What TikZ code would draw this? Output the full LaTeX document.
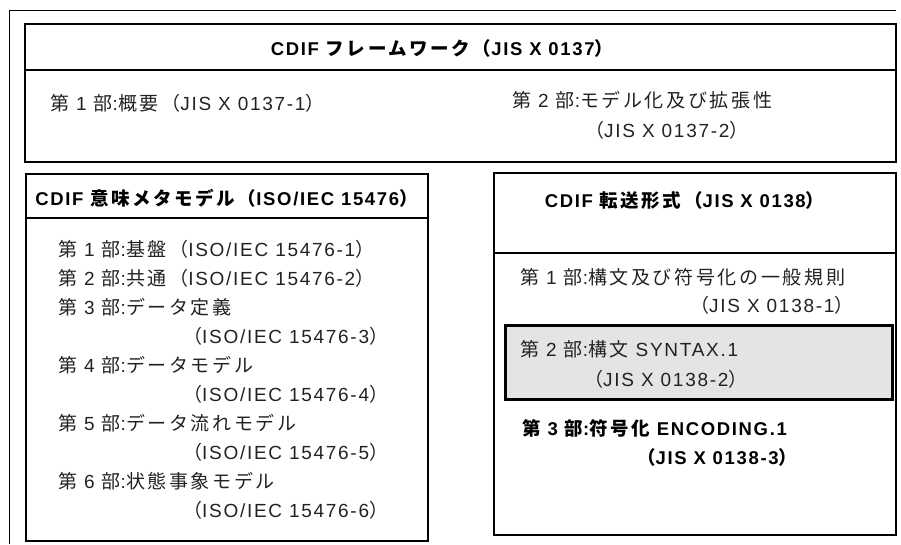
\documentclass[tikz,border=0pt]{standalone}
\usepackage{fontspec}
\setmainfont{Liberation Sans}[LetterSpace=9]
\newfontfamily\jp{Noto Sans CJK JP}[LetterSpace=14]
\newcommand\jpx[1]{{\jp #1}}
\definecolor{txt}{HTML}{222222}
\definecolor{boxgray}{HTML}{E4E4E4}
\tikzset{
  frame/.style={draw=black, line width=0.9pt},
  box/.style={draw=black, line width=2pt},
  hilite/.style={draw=black, line width=3pt, fill=boxgray},
  lbl/.style={anchor=west, inner sep=0pt, text=txt, font=\fontsize{19}{22}\selectfont},
  ttl/.style={anchor=center, inner sep=0pt, text=black, font=\fontsize{18.5}{22}\selectfont\bfseries},
  bld/.style={anchor=west, inner sep=0pt, text=black, font=\fontsize{18.5}{22}\selectfont\bfseries},
}
\begin{document}
\begin{tikzpicture}[x=1pt,y=-1pt]
\useasboundingbox (0,0) rectangle (901,544);
% outer frame (top and left only)
\draw[frame] (9,544) -- (9,10) -- (896,10);
% top box
\draw[box] (25,24) rectangle (896,162);
\draw[box] (25,70) -- (896,70);
% left box
\draw[box] (26,174) rectangle (428,541);
\draw[box] (26,218) -- (428,218);
% right box
\draw[box] (494,173) rectangle (896,535);
\draw[box] (494,253) -- (896,253);
% highlighted part 2
\draw[hilite] (505,325) rectangle (892,399);

% top texts
\node[ttl] (t0) at (442,48) {CDIF \jpx{フレームワーク（}JIS X 0137\jpx{）}};
\node[lbl] (t1) at (50,103) {\jpx{第} 1 \jpx{部}:\jpx{概要（}JIS X 0137-1\jpx{）}};
\node[lbl] (t2a) at (512,100) {\jpx{第} 2 \jpx{部}:\jpx{モデル化及び拡張性}};
\node[lbl] (t2b) at (585,130) {\jpx{（}JIS X 0137-2\jpx{）}};

% left texts
\node[ttl] (l0) at (226.5,198) {CDIF \jpx{意味メタモデル（}ISO/IEC 15476\jpx{）}};
\node[lbl] (l1) at (58,249) {\jpx{第} 1 \jpx{部}:\jpx{基盤（}ISO/IEC 15476-1\jpx{）}};
\node[lbl] (l2) at (58,278) {\jpx{第} 2 \jpx{部}:\jpx{共通（}ISO/IEC 15476-2\jpx{）}};
\node[lbl] (l3a) at (58,307) {\jpx{第} 3 \jpx{部}:\jpx{データ定義}};
\node[lbl] (l3b) at (183,336) {\jpx{（}ISO/IEC 15476-3\jpx{）}};
\node[lbl] (l4a) at (58,365) {\jpx{第} 4 \jpx{部}:\jpx{データモデル}};
\node[lbl] (l4b) at (183,394) {\jpx{（}ISO/IEC 15476-4\jpx{）}};
\node[lbl] (l5a) at (58,423) {\jpx{第} 5 \jpx{部}:\jpx{データ流れモデル}};
\node[lbl] (l5b) at (183,452) {\jpx{（}ISO/IEC 15476-5\jpx{）}};
\node[lbl] (l6a) at (58,481) {\jpx{第} 6 \jpx{部}:\jpx{状態事象モデル}};
\node[lbl] (l6b) at (183,510) {\jpx{（}ISO/IEC 15476-6\jpx{）}};

% right texts
\node[ttl] (r0) at (684.5,200) {CDIF \jpx{転送形式（}JIS X 0138\jpx{）}};
\node[lbl] (r1a) at (520,277) {\jpx{第} 1 \jpx{部}:\jpx{構文及び符号化の一般規則}};
\node[lbl] (r1b) at (690,305) {\jpx{（}JIS X 0138-1\jpx{）}};
\node[lbl] (r2a) at (520,349) {\jpx{第} 2 \jpx{部}:\jpx{構文} SYNTAX.1};
\node[lbl] (r2b) at (584,379) {\jpx{（}JIS X 0138-2\jpx{）}};
\node[bld] (r3a) at (522,428) {\jpx{第} 3 \jpx{部}:\jpx{符号化} ENCODING.1};
\node[bld] (r3b) at (637,457) {\jpx{（}JIS X 0138-3\jpx{）}};
\end{tikzpicture}
\end{document}
